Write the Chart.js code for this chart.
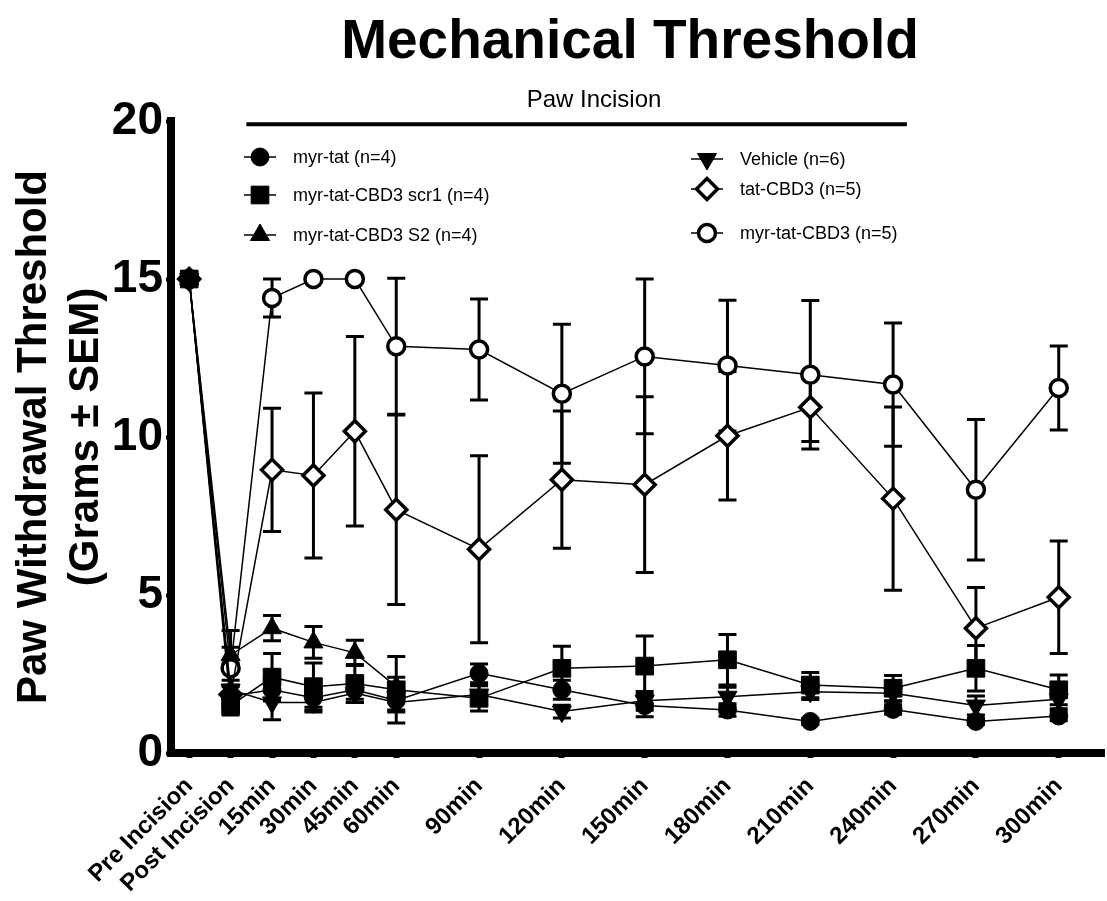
<!DOCTYPE html>
<html>
<head>
<meta charset="utf-8">
<script src="https://cdn.jsdelivr.net/npm/chart.js@4.4.1/dist/chart.umd.min.js"></script>
<style>
	html, body { margin: 0; padding: 0; background: #fff; }
	#wrap { width: 1107px; height: 901px; }
</style>
</head>
<body>
<div id="wrap"><canvas id="chart" width="1107" height="901"></canvas></div>
<script>
const FONT = '"Liberation Sans", Arial, sans-serif';

// time points (minutes relative to incision) and their axis labels
const timeLabels = ["Pre Incision", "Post Incision", "15min", "30min", "45min", "60min",
	"90min", "120min", "150min", "180min", "210min", "240min", "270min", "300min"];
const timeMinutes = [-15, 0, 15, 30, 45, 60, 90, 120, 150, 180, 210, 240, 270, 300];

// series means (grams) and SEM
const myrTat = [15, 1.8, 2.0, 1.75, 2.0, 1.66, 2.52, 2.0, 1.5, 1.36, 1.0, 1.38, 1.0, 1.17];
const myrTatSem = [0, 0.3, 0.35, 0.3, 0.3, 0.3, 0.3, 0.3, 0.35, 0.2, 0.1, 0.15, 0.1, 0.15];
const scr1 = [15, 1.5, 2.4, 2.1, 2.2, 2.0, 1.73, 2.68, 2.75, 2.95, 2.15, 2.05, 2.68, 2.0];
const scr1Sem = [0, 0.3, 0.75, 0.75, 0.6, 1.05, 0.4, 0.7, 0.95, 0.8, 0.4, 0.4, 0.72, 0.47];
const s2 = [15, 3.1, 3.95, 3.5, 3.17, 2.1];
const s2Sem = [0, 0.25, 0.4, 0.5, 0.4, 0.3];
const vehicle = [15, 2.0, 1.6, 1.6, 1.9, 1.6, 1.85, 1.31, 1.65, 1.78, 1.94, 1.89, 1.5, 1.7];
const vehicleSem = [0, 0.3, 0.55, 0.3, 0.3, 0.3, 0.3, 0.2, 0.3, 0.3, 0.25, 0.25, 0.3, 0.3];
const tatCbd3 = [15, 1.85, 8.96, 8.78, 10.18, 7.7, 6.45, 8.65, 8.49, 10.04, 10.94, 8.05, 3.95, 4.93];
const tatCbd3Sem = [0, 0.3, 1.95, 2.61, 3.0, 3.0, 2.96, 2.17, 2.78, 2.03, 1.08, 2.9, 1.29, 1.78];
const myrTatCbd3 = [15, 2.68, 14.4, 15, 15, 12.87, 12.77, 11.37, 12.55, 12.26, 11.97, 11.66, 8.33, 11.55];
const myrTatCbd3Sem = [0, 1.2, 0.6, 0, 0, 2.15, 1.6, 2.2, 2.45, 2.07, 2.35, 1.95, 2.22, 1.33];

// "Paw Incision" bar span (minutes)
const incisionStart = 5.7;
const incisionEnd = 245;

function makePoints(values) {
	return values.map((v, i) => ({ x: timeMinutes[i], y: v }));
}

function series(label, values, sem, style, radius, open, rotation) {
	return {
		label: label,
		data: makePoints(values),
		sem: sem,
		open: open,
		pointStyle: style,
		pointRadius: radius,
		pointRotation: rotation || 0,
		pointBackgroundColor: open ? "#fff" : "#000",
		pointBorderColor: "#000",
		pointBorderWidth: open ? 3.5 : 1,
		borderColor: "#000",
		borderWidth: 1.5,
		tension: 0,
		fill: false,
	};
}

const datasets = [
	series("myr-tat (n=4)", myrTat, myrTatSem, "circle", 9, false),
	series("myr-tat-CBD3 scr1 (n=4)", scr1, scr1Sem, "rect", 12.5, false),
	series("myr-tat-CBD3 S2 (n=4)", s2, s2Sem, "triangle", 11, false),
	series("Vehicle (n=6)", vehicle, vehicleSem, "triangle", 11, false, 180),
	series("tat-CBD3 (n=5)", tatCbd3, tatCbd3Sem, "rectRot", 10.5, true),
	series("myr-tat-CBD3 (n=5)", myrTatCbd3, myrTatCbd3Sem, "circle", 8.5, true),
];

// error bars with caps, drawn under the markers
const errorBars = {
	id: "errorBars",
	beforeDatasetsDraw(chart) {
		const ctx = chart.ctx;
		const ys = chart.scales.y;
		ctx.save();
		ctx.strokeStyle = "#000";
		ctx.lineWidth = 3;
		chart.data.datasets.forEach((ds, di) => {
			const meta = chart.getDatasetMeta(di);
			meta.data.forEach((pt, i) => {
				const e = ds.sem[i];
				if (!e) return;
				const v = ds.data[i].y;
				const top = ys.getPixelForValue(v + e);
				const bot = ys.getPixelForValue(v - e);
				ctx.beginPath();
				ctx.moveTo(pt.x, top);
				ctx.lineTo(pt.x, bot);
				ctx.moveTo(pt.x - 9, top);
				ctx.lineTo(pt.x + 9, top);
				ctx.moveTo(pt.x - 9, bot);
				ctx.lineTo(pt.x + 9, bot);
				ctx.stroke();
			});
		});
		ctx.restore();
	},
};

// title, incision bar and the two-column legend
const decorations = {
	id: "decorations",
	afterDraw(chart) {
		const ctx = chart.ctx;
		const xs = chart.scales.x;
		const ys = chart.scales.y;
		ctx.save();
		ctx.fillStyle = "#000";
		ctx.textAlign = "center";
		ctx.textBaseline = "alphabetic";
		ctx.font = "bold 55px " + FONT;
		ctx.fillText("Mechanical Threshold", 630, 58);

		// Paw Incision bar
		const x1 = xs.getPixelForValue(incisionStart);
		const x2 = xs.getPixelForValue(incisionEnd);
		const yb = ys.getPixelForValue(19.9);
		ctx.lineWidth = 4;
		ctx.strokeStyle = "#000";
		ctx.beginPath();
		ctx.moveTo(x1, yb);
		ctx.lineTo(x2, yb);
		ctx.stroke();
		ctx.font = "24px " + FONT;
		ctx.fillText("Paw Incision", 594, 107);

		// legend
		const slots = [
			[260, 157], [260, 195], [260, 235],
			[707, 159], [707, 189], [707, 233],
		];
		ctx.font = "18px " + FONT;
		ctx.textAlign = "left";
		ctx.textBaseline = "middle";
		chart.data.datasets.forEach((ds, i) => {
			const [cx, cy] = slots[i];
			ctx.lineWidth = 1.5;
			ctx.strokeStyle = "#000";
			ctx.beginPath();
			ctx.moveTo(cx - 16, cy);
			ctx.lineTo(cx + 16, cy);
			ctx.stroke();
			ctx.fillStyle = ds.pointBackgroundColor;
			ctx.strokeStyle = "#000";
			ctx.lineWidth = ds.pointBorderWidth;
			Chart.helpers.drawPoint(ctx, {
				pointStyle: ds.pointStyle,
				radius: ds.pointRadius,
				rotation: ds.pointRotation,
				borderWidth: ds.pointBorderWidth,
			}, cx, cy);
			ctx.fillStyle = "#000";
			ctx.fillText(ds.label, cx + 33, cy + 1);
		});
		ctx.restore();
	},
};

const ctx = document.getElementById("chart").getContext("2d");
new Chart(ctx, {
	type: "line",
	data: { datasets: datasets },
	options: {
		responsive: false,
		animation: false,
		layout: { autoPadding: false, padding: { top: 121, right: 3, left: 0, bottom: 0 } },
		plugins: {
			legend: { display: false },
			tooltip: { enabled: false },
			title: { display: false },
		},
		scales: {
			x: {
				type: "linear",
				min: -21.6,
				max: 316.4,
				afterBuildTicks: (scale) => {
					scale.ticks = timeMinutes.map((v) => ({ value: v }));
				},
				afterFit: (scale) => {
					scale.height = 148;
					scale.paddingLeft = 0;
					scale.paddingRight = 0;
				},
				ticks: {
					autoSkip: false,
					maxRotation: 45,
					minRotation: 45,
					padding: 14,
					color: "#000",
					font: { family: FONT, size: 24, weight: "bold" },
					callback: (v, i) => timeLabels[i],
				},
				grid: { drawOnChartArea: false, tickLength: 5, tickWidth: 6, color: "#000" },
				border: { width: 8, color: "#000" },
			},
			y: {
				min: 0,
				max: 20,
				afterFit: (scale) => {
					scale.width = 171;
				},
				ticks: {
					stepSize: 5,
					padding: 3,
					color: "#000",
					font: { family: FONT, size: 46, weight: "bold" },
				},
				grid: { drawOnChartArea: false, tickLength: 5, tickWidth: 4, color: "#000" },
				border: { width: 8, color: "#000" },
				title: {
					display: true,
					text: ["Paw Withdrawal Threshold", "(Grams \u00b1 SEM)"],
					color: "#000",
					font: { family: FONT, size: 42, weight: "bold", lineHeight: 1.25 },
					padding: { top: 8, bottom: 0 },
				},
			},
		},
	},
	plugins: [errorBars, decorations],
});
</script>
</body>
</html>
